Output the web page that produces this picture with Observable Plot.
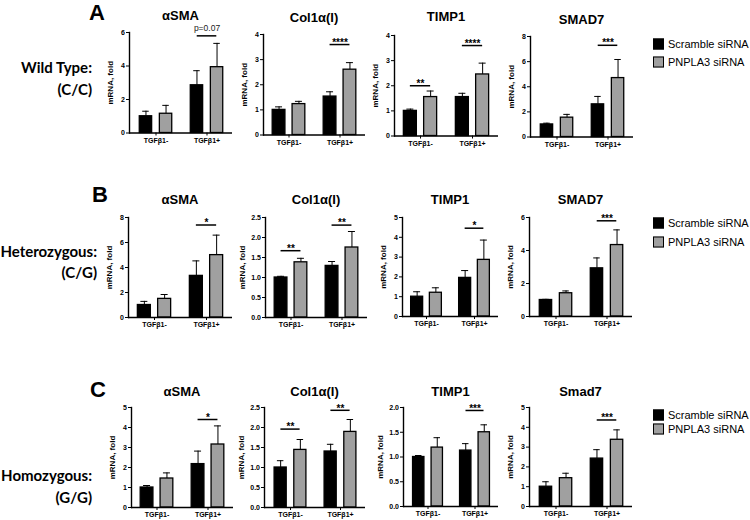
<!DOCTYPE html>
<html>
<head>
<meta charset="utf-8">
<script src="https://cdn.jsdelivr.net/npm/d3@7"></script>
<script src="https://cdn.jsdelivr.net/npm/@observablehq/plot@0.6"></script>
<style>
  body { margin: 0; background: #fff; }
  #fig { position: relative; width: 750px; height: 520px; overflow: hidden; background: #fff;
         font-family: "Liberation Sans", Arial, sans-serif; color: #000; }
  .abs { position: absolute; white-space: nowrap; line-height: 1; }
  .ctr { transform: translate(-50%, -50%); }
  .title { font-weight: bold; font-size: 13px; }
  .letter { font-weight: bold; font-size: 22px; }
  .geno { font-family: Lato, "Open Sans", sans-serif; font-weight: bold; font-size: 15px; text-align: right; transform: translate(-100%, -50%); }
  .leg { font-size: 11px; transform: translateY(-50%); }
  .sw { position: absolute; width: 9px; height: 9px; border: 1.2px solid #000; transform: translateY(-50%); }
</style>
</head>
<body>
<div id="fig"></div>
<script>
// ---------------- data ----------------
const groups = ["TGFβ1-", "TGFβ1+"];
const seriesNames = ["Scramble siRNA", "PNPLA3 siRNA"];
const yLabel = "mRNA, fold";
const panelLetters = ["A", "B", "C"];
const genotypeNames = ["Wild Type:", "Heterozygous:", "Homozygous:"];
const genotypeAlleles = ["(C/C)", "(C/G)", "(G/G)"];

// Row A – Wild Type (C/C); each entry = [TGFβ1-, TGFβ1+]
const genesA = ["αSMA", "Col1α(I)", "TIMP1", "SMAD7"];
const aScrambleMean = [[1.0, 2.85], [1.0, 1.53], [1.0, 1.55], [1.0, 2.6]];
const aScrambleErr  = [[0.3, 0.87], [0.12, 0.19], [0.07, 0.15], [0.1, 0.63]];
const aPnplaMean    = [[1.15, 3.93], [1.23, 2.6], [1.55, 2.45], [1.54, 4.69]];
const aPnplaErr     = [[0.5, 1.42], [0.11, 0.28], [0.24, 0.45], [0.26, 1.48]];
const aYMax  = [6, 4, 4, 8];
const aYStep = [2, 1, 1, 2];
const aSigText = [["", "p=0.07"], ["", "****"], ["**", "****"], ["", "***"]];
const aSigY    = [[0, 5.8], [0, 3.6], [2.0, 3.6], [0, 7.3]];

// Row B – Heterozygous (C/G)
const genesB = ["αSMA", "Col1α(I)", "TIMP1", "SMAD7"];
const bScrambleMean = [[1.0, 3.33], [1.0, 1.29], [1.0, 1.95], [1.0, 2.92]];
const bScrambleErr  = [[0.29, 1.2], [0.03, 0.11], [0.25, 0.37], [0.04, 0.63]];
const bPnplaMean    = [[1.49, 4.99], [1.38, 1.75], [1.2, 2.86], [1.41, 4.33]];
const bPnplaErr     = [[0.35, 1.6], [0.1, 0.4], [0.25, 1.0], [0.14, 0.92]];
const bYMax  = [8, 2.5, 5, 6];
const bYStep = [2, 0.5, 1, 2];
const bSigText = [["", "*"], ["**", "**"], ["", "*"], ["", "***"]];
const bSigY    = [[0, 7.4], [1.67, 2.31], [0, 4.46], [0, 5.8]];

// Row C – Homozygous (G/G)
const genesC = ["αSMA", "Col1α(I)", "TIMP1", "Smad7"];
const cScrambleMean = [[1.0, 2.17], [1.0, 1.4], [1.0, 1.13], [1.0, 2.42]];
const cScrambleErr  = [[0.1, 0.65], [0.17, 0.18], [0.03, 0.14], [0.25, 0.45]];
const cPnplaMean    = [[1.45, 3.15], [1.44, 1.89], [1.19, 1.5], [1.43, 3.37]];
const cPnplaErr     = [[0.28, 0.93], [0.26, 0.31], [0.2, 0.15], [0.25, 0.5]];
const cYMax  = [5, 2.5, 2, 5];
const cYStep = [1, 0.5, 0.5, 1];
const cSigText = [["", "*"], ["**", "**"], ["", "***"], ["", "***"]];
const cSigY    = [[0, 4.4], [1.96, 2.43], [0, 1.94], [0, 4.37]];

// ---------------- layout (page px: plot-area left, right, top, bottom) ----------------
const layoutA = [[129, 232, 32, 132.5], [263, 365, 34, 134.5], [394, 498, 35, 135.5], [530, 633, 36, 136.5]];
const layoutB = [[128, 232, 217, 317], [265, 367, 217, 317], [402, 498, 217, 316], [529, 632, 217, 316]];
const layoutC = [[131, 233, 407, 507], [264, 365, 407, 507], [403, 498, 407, 506], [529, 632, 407, 506]];
const titleYA = [15, 17, 16, 19], titleYB = [199, 199, 199, 199], titleYC = [391, 391, 391, 391];

const FONT = "'Liberation Sans', Arial, sans-serif";
const GRAY = "#a0a0a0";
const fig = document.getElementById("fig");

function addDiv(cls, text, left, top, extra) {
  const d = document.createElement("div");
  d.className = "abs " + cls;
  d.textContent = text;
  d.style.left = left + "px";
  d.style.top = top + "px";
  if (extra) Object.assign(d.style, extra);
  fig.appendChild(d);
  return d;
}

function panel(gene, sm, se, pm, pe, yMax, yStep, sigText, sigY, geom, titleY) {
  const [L, R, T, B] = geom;
  const ML = 32, MR = 4, MT = 14, MB = 16;
  const W = ML + (R - L) + MR, H = MT + (B - T) + MB;
  const band = (R - L) / 2;
  const off = 0.195 * band;
  const innerIn = 0.18 * band, outerIn = 0.57 * band;
  const capIn = band / 2 - 3.5;
  const rows = groups.flatMap((g, i) => [
    {group: g, series: seriesNames[0], mean: sm[i], hi: sm[i] + se[i]},
    {group: g, series: seriesNames[1], mean: pm[i], hi: pm[i] + pe[i]}
  ]);
  const scr = rows.filter(d => d.series === seriesNames[0]);
  const pn = rows.filter(d => d.series === seriesNames[1]);
  const sig = groups.map((g, i) => ({group: g, y: sigY[i], label: sigText[i]})).filter(d => d.label);
  const stars = sig.filter(d => d.label.startsWith("*"));
  const pvals = sig.filter(d => !d.label.startsWith("*"));

  const svg = Plot.plot({
    width: W, height: H,
    marginLeft: ML, marginRight: MR, marginTop: MT, marginBottom: MB,
    style: {fontFamily: FONT, fontSize: "7px", fontWeight: "bold", color: "#000", background: "transparent", overflow: "visible"},
    x: {domain: groups, padding: 0, tickSize: 3, tickPadding: 2, label: null},
    y: {domain: [0, yMax], ticks: Math.round(yMax / yStep), tickSize: 3, tickPadding: 1.5,
        tickFormat: yStep < 1 ? d3.format(".1f") : d3.format("d"),
        label: yLabel, labelArrow: false, labelAnchor: "center", labelOffset: yStep < 1 ? 26 : 22},
    marks: [
      Plot.ruleX(scr, {x: "group", y1: "mean", y2: "hi", dx: -off, stroke: "#000", strokeWidth: 1}),
      Plot.ruleX(pn, {x: "group", y1: "mean", y2: "hi", dx: off, stroke: "#000", strokeWidth: 1}),
      Plot.tickY(scr, {x: "group", y: "hi", dx: -off, insetLeft: capIn, insetRight: capIn, stroke: "#000", strokeWidth: 1}),
      Plot.tickY(pn, {x: "group", y: "hi", dx: off, insetLeft: capIn, insetRight: capIn, stroke: "#000", strokeWidth: 1}),
      Plot.barY(scr, {x: "group", y: "mean", fill: "#000", stroke: "#000", strokeWidth: 1.3, insetLeft: innerIn, insetRight: outerIn}),
      Plot.barY(pn, {x: "group", y: "mean", fill: GRAY, stroke: "#000", strokeWidth: 1.3, insetLeft: outerIn, insetRight: innerIn}),
      Plot.tickY(sig, {x: "group", y: "y", insetLeft: band / 2 - off, insetRight: band / 2 - off, stroke: "#000", strokeWidth: 1.5}),
      Plot.text(stars, {x: "group", y: "y", text: "label", fontSize: 10, fontWeight: "bold", lineAnchor: "middle", dy: -2, ariaLabel: "stars"}),
      Plot.text(pvals, {x: "group", y: "y", text: "label", fontSize: 8.5, fontWeight: "normal", lineAnchor: "middle", dy: -8, fill: "#222"}),
      Plot.frame({anchor: "left", strokeWidth: 1.4}),
      Plot.ruleY([0], {strokeWidth: 1.4})
    ]
  });
  d3.select(svg).selectAll('[aria-label="stars"] text').attr("letter-spacing", "1px");
  d3.select(svg).selectAll("text").filter(function () { return this.textContent.trim() === yLabel; })
    .style("font-size", "8px");
  svg.style.position = "absolute";
  svg.style.left = (L - ML) + "px";
  svg.style.top = (T - MT) + "px";
  fig.appendChild(svg);
  addDiv("title ctr", gene, (L + R) / 2, titleY);
}

function row(genes, sm, se, pm, pe, yMax, yStep, sigText, sigY, layout, titleYs) {
  genes.forEach((g, i) => panel(g, sm[i], se[i], pm[i], pe[i], yMax[i], yStep[i], sigText[i], sigY[i], layout[i], titleYs[i]));
}

row(genesA, aScrambleMean, aScrambleErr, aPnplaMean, aPnplaErr, aYMax, aYStep, aSigText, aSigY, layoutA, titleYA);
row(genesB, bScrambleMean, bScrambleErr, bPnplaMean, bPnplaErr, bYMax, bYStep, bSigText, bSigY, layoutB, titleYB);
row(genesC, cScrambleMean, cScrambleErr, cPnplaMean, cPnplaErr, cYMax, cYStep, cSigText, cSigY, layoutC, titleYC);

// panel letters and genotype labels
const letterPos = [[97, 12.5], [100, 195], [98, 390]];
panelLetters.forEach((t, i) => addDiv("letter ctr", t, letterPos[i][0], letterPos[i][1]));
const genoPos = [[92, 67, 89], [97, 251, 272], [92, 475, 497]];
genotypeNames.forEach((t, i) => {
  addDiv("geno", t, genoPos[i][0], genoPos[i][1]);
  addDiv("geno", genotypeAlleles[i], genoPos[i][0], genoPos[i][2]);
});

// legends (one per row)
const legendY = [[44, 62], [223, 242], [415, 429]];
legendY.forEach(ys => {
  seriesNames.forEach((s, j) => {
    const sw = document.createElement("div");
    sw.className = "sw";
    sw.style.left = "653px";
    sw.style.top = ys[j] + "px";
    sw.style.background = j === 0 ? "#000" : GRAY;
    fig.appendChild(sw);
    addDiv("leg", s, 668, ys[j]);
  });
});
</script>
</body>
</html>
